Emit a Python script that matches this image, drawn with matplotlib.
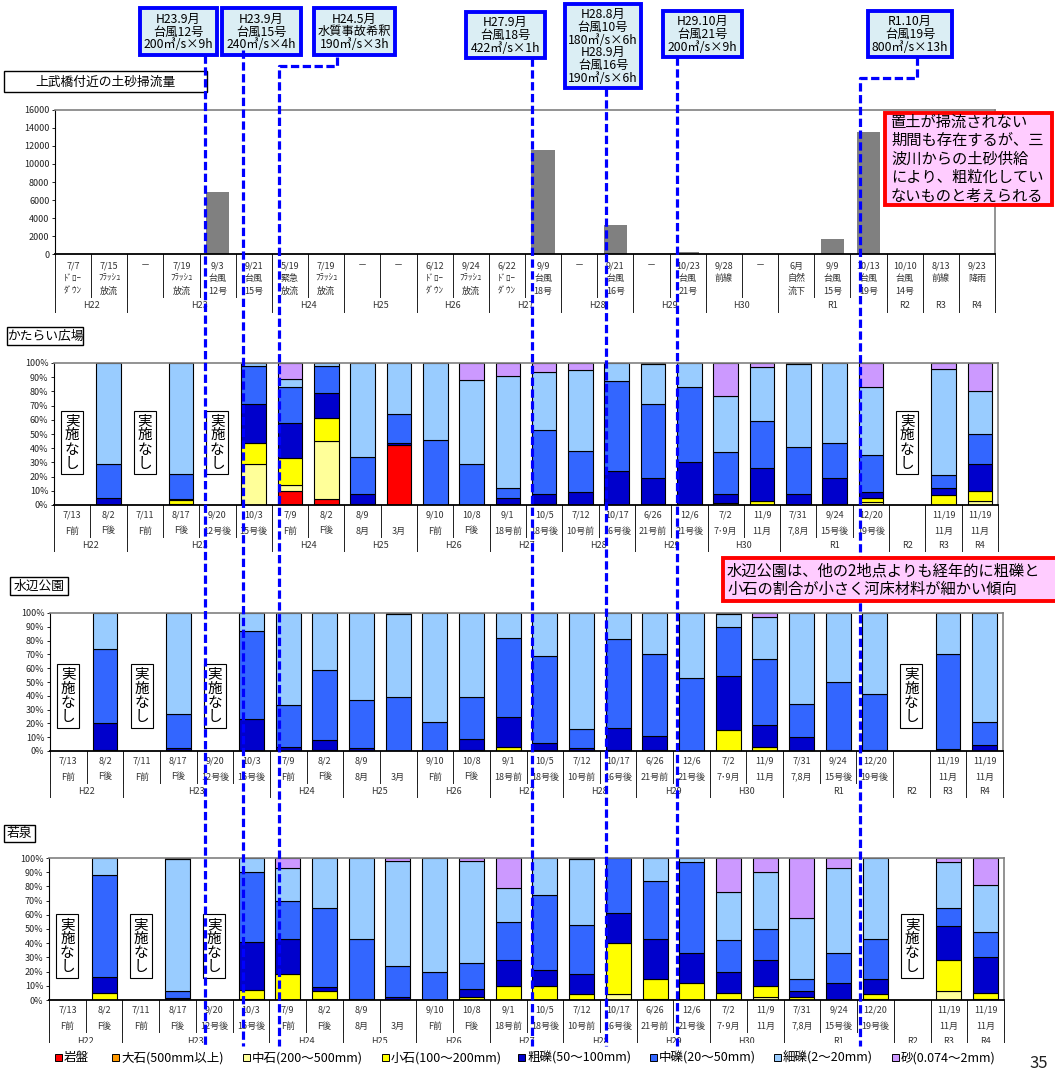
import numpy as np
import matplotlib
matplotlib.use("Agg")
import matplotlib.pyplot as plt
from matplotlib.patches import Rectangle

plt.rcParams["font.family"] = ["Noto Sans CJK JP", "DejaVu Sans"]

W, H = 1055, 1075

# grain-size classes, bottom of the stack first
CLASSES = ["岩盤", "大石(500mm以上)", "中石(200～500mm)", "小石(100～200mm)",
           "粗礫(50～100mm)", "中礫(20～50mm)", "細礫(2～20mm)", "砂(0.074～2mm)"]
CLASS_COLORS = ["#ff0000", "#ff9900", "#ffff99", "#ffff00",
                "#0000cc", "#3366ff", "#99ccff", "#cc99ff"]

YEARS = ["H22", "H23", "H24", "H25", "H26", "H27", "H28", "H29", "H30",
         "R1", "R2", "R3", "R4"]
YEAR_SPANS = [2, 4, 2, 2, 2, 2, 2, 2, 2, 3, 1, 1, 1]

# sediment flushed near 上武橋 (m3)
FLOW_LABELS = ["7/7\nﾄﾞﾛｰ\nﾀﾞｳﾝ", "7/15\nﾌﾗｯｼｭ\n放流", "－", "7/19\nﾌﾗｯｼｭ\n放流",
               "9/3\n台風\n12号", "9/21\n台風\n15号", "5/19\n緊急\n放流",
               "7/19\nﾌﾗｯｼｭ\n放流", "－", "－", "6/12\nﾄﾞﾛｰ\nﾀﾞｳﾝ",
               "9/24\nﾌﾗｯｼｭ\n放流", "6/22\nﾄﾞﾛｰ\nﾀﾞｳﾝ", "9/9\n台風\n18号", "－",
               "9/21\n台風\n16号", "－", "10/23\n台風\n21号", "9/28\n前線", "－",
               "6月\n自然\n流下", "9/9\n台風\n15号", "10/13\n台風\n19号",
               "10/10\n台風\n14号", "8/13\n前線", "9/23\n降雨"]
FLOW_VOLUME = [0, 0, 0, 0, 6900, 0, 0, 0, 0, 0, 0, 0, 0,
               11500, 0, 3250, 0, 250, 0, 0, 0, 1700, 13600, 0, 0, 0]

SAMPLE_DATES = ["7/13", "8/2", "7/11", "8/17", "9/20", "10/3", "7/9", "8/2",
                "8/9", "", "9/10", "10/8", "9/1", "10/5", "7/12", "10/17",
                "6/26", "12/6", "7/2", "11/9", "7/31", "9/24", "12/20", "",
                "11/19", "11/19"]
SAMPLE_NOTES = ["F前", "F後", "F前", "F後", "12号後", "15号後", "F前", "F後",
                "8月", "3月", "F前", "F後", "18号前", "18号後", "10号前", "16号後",
                "21号前", "21号後", "7･9月", "11月", "7,8月", "15号後", "19号後", "",
                "11月", "11月"]

# composition (%) per survey, columns follow CLASSES; None = 実施なし
KATARAI = [
    None, [0, 0, 0, 0, 5, 24, 71, 0], None, [0, 0, 1, 2.5, 0.5, 18, 78, 0], None,
    [0, 0, 29, 15, 27, 27, 2, 0], [10, 0, 4, 19, 25, 25, 6, 11],
    [4, 0, 41, 16, 18, 19, 2, 0], [0, 0, 0, 1, 7, 26, 66, 0],
    [42, 0, 0, 0, 2, 20, 36, 0], [0, 0, 0, 0, 0, 46, 54, 0],
    [0, 0, 0, 0, 0, 29, 59, 12], [0, 0, 0, 1, 4, 7, 79, 9],
    [0, 0, 0, 1, 7, 45, 41, 6], [0, 0, 0, 0, 9, 29, 57, 5],
    [0, 0, 0, 0, 24, 63, 13, 0], [0, 0, 0, 1, 18, 52, 28, 1],
    [0, 0, 0, 0, 30, 53, 17, 0], [0, 0, 0, 1.5, 6.5, 29, 40, 23],
    [0, 0, 0, 3, 23, 33, 38, 3], [0, 0, 0, 0, 8, 33, 58, 1],
    [0, 0, 0, 1, 18, 25, 56, 0], [0, 0, 2, 3, 4, 26, 48, 17], None,
    [0, 0, 0, 7, 5, 9, 75, 4], [0, 0, 3, 7, 19, 21, 30, 20],
]
MIZUBE = [
    None, [0, 0, 0, 1, 19, 54, 26, 0], None, [0, 0, 0, 1, 1, 25, 73, 0], None,
    [0, 0, 0, 0, 23, 64, 13, 0], [0, 0, 0, 0, 3, 30, 67, 0],
    [0, 0, 0, 1, 7, 51, 41, 0], [0, 0, 0, 0, 2, 35, 63, 0],
    [0, 0, 0, 0, 0, 39, 60, 1], [0, 0, 0, 0, 0, 21, 79, 0],
    [0, 0, 0, 1, 8, 30, 61, 0], [0, 0, 0, 3, 22, 57, 18, 0],
    [0, 0, 0, 0, 6, 63, 31, 0], [0, 0, 0, 0, 2, 14, 84, 0],
    [0, 0, 0, 1, 16, 64, 19, 0], [0, 0, 0, 1, 10, 59, 30, 0],
    [0, 0, 0, 0, 0, 53, 47, 0], [0, 0, 0, 15, 39, 36, 9, 1],
    [0, 0, 0, 3, 16, 48, 30, 3], [0, 0, 0, 0, 10, 24, 66, 0],
    [0, 0, 0, 0, 1, 49, 50, 0], [0, 0, 0, 0, 1, 40, 59, 0], None,
    [0, 0, 0, 0, 1.5, 68.5, 30, 0], [0, 0, 0, 0, 4, 17, 79, 0],
]
WAKAIZUMI = [
    None, [0, 0, 0, 5, 11, 72, 12, 0], None, [0, 0, 0, 0, 1.5, 4.5, 93, 1], None,
    [0, 0, 1, 6, 34, 49, 10, 0], [0, 0, 0, 18, 25, 27, 23, 7],
    [0, 0, 1, 5, 3, 56, 35, 0], [0, 0, 0, 0, 1, 42, 57, 0],
    [0, 0, 0, 0, 2, 22, 74, 2], [0, 0, 0, 0, 0, 20, 80, 0],
    [0, 0, 0, 2, 6, 18, 72, 2], [0, 0, 0, 10, 18, 27, 24, 21],
    [0, 0, 0, 10, 11, 53, 26, 0], [0, 0, 0, 4, 14, 35, 46, 1],
    [0, 0, 4, 36, 21, 39, 0, 0], [0, 0, 1, 14, 28, 41, 16, 0],
    [0, 0, 0, 12, 21, 64, 3, 0], [0, 0, 0, 5, 15, 22, 34, 24],
    [0, 0, 2, 8, 18, 22, 40, 10], [0, 0, 0, 2, 4, 9, 43, 42],
    [0, 0, 0, 0, 12, 21, 60, 7], [0, 0, 1, 3, 11, 28, 57, 0], None,
    [0, 0, 6, 22, 24, 13, 32, 3], [0, 0, 1, 4, 25, 18, 33, 19],
]

N = len(FLOW_VOLUME)
LABEL_FS = 6.5


def px_axes(fig, left, top, right, bottom):
    return fig.add_axes([left / W, 1 - bottom / H, (right - left) / W, (bottom - top) / H])


def frame(ax):
    for s in ("top", "right"):
        ax.spines[s].set_color("#808080")
        ax.spines[s].set_linewidth(1.2)
    ax.spines["left"].set_linewidth(0.8)
    ax.spines["bottom"].set_linewidth(1.3)
    ax.set_xlim(0, N)
    ax.set_xticks([])
    ax.tick_params(axis="y", length=2, width=0.6, labelsize=LABEL_FS, pad=2,
                   labelcolor="#222")


def category_axis(ax, h_px, rows, row_dy, minor_dy, year_dy, major_dy):
    """Two-level category labels below the axis; offsets are in pixels."""
    tr = ax.get_xaxis_transform()
    f = lambda d: -d / h_px
    for i in range(N + 1):
        ax.plot([i, i], [0, f(minor_dy)], transform=tr, color="#202020",
                lw=0.7, clip_on=False)
    edges = np.concatenate([[0], np.cumsum(YEAR_SPANS)])
    for e in edges:
        ax.plot([e, e], [0, f(major_dy)], transform=tr, color="#202020",
                lw=0.7, clip_on=False)
    for texts, dy in zip(rows, row_dy):
        for i, t in enumerate(texts):
            if t:
                ax.text(i + 0.5, f(dy), t, transform=tr, ha="center", va="center",
                        fontsize=LABEL_FS, color="#333", clip_on=False)
    for name, a, b in zip(YEARS, edges[:-1], edges[1:]):
        ax.text((a + b) / 2, f(year_dy), name, transform=tr, ha="center",
                va="center", fontsize=LABEL_FS, color="#333", clip_on=False)


def title_box(ov, x0, y0, x1, y1, label):
    ov.add_patch(Rectangle((x0, y0), x1 - x0, y1 - y0, fc="white", ec="black", lw=1.0))
    ov.text((x0 + x1) / 2, (y0 + y1) / 2 + 0.5, label, ha="center", va="center",
            fontsize=9.2)


def site_chart(ax, rows, box_y):
    x = np.arange(N) + 0.5
    data = np.array([r if r is not None else [0] * 8 for r in rows], float)
    bottom = np.zeros(N)
    for k, color in enumerate(CLASS_COLORS):
        v = data[:, k]
        m = v > 0
        ax.bar(x[m], v[m], bottom=bottom[m], width=0.68, color=color,
               edgecolor="black", linewidth=0.8)
        bottom += v
    for i, r in enumerate(rows):
        if r is None:
            ax.text(i + 0.5, box_y, "実\n施\nな\nし", ha="center", va="center",
                    fontsize=10.5, linespacing=1.02,
                    bbox=dict(boxstyle="square,pad=0.25", fc="white", ec="black", lw=0.8))
    ax.set_ylim(0, 100)
    ax.set_yticks(range(0, 101, 10))
    ax.set_yticklabels([f"{v}%" for v in range(0, 101, 10)])
    frame(ax)


fig = plt.figure(figsize=(W / 100, H / 100), dpi=100)

# --- sediment volume panel ---
ax0 = px_axes(fig, 55, 110, 995, 254)
x = np.arange(N) + 0.5
vol = np.array(FLOW_VOLUME, float)
m = vol > 0
ax0.bar(x[m], vol[m], width=0.65, color="#808080")
ax0.set_ylim(0, 16000)
ax0.set_yticks(range(0, 16001, 2000))
frame(ax0)
flow_rows = [[(t.split("\n") + ["", "", ""])[j] for t in FLOW_LABELS] for j in range(3)]
category_axis(ax0, 144, flow_rows, [12, 24, 37], 43, 52, 58)

# --- grain-size panels ---
panels = [
    (KATARAI, (54, 363, 998, 505), 44),
    (MIZUBE, (50, 613, 1003, 751), 40),
    (WAKAIZUMI, (49, 858, 1004, 1000), 38),
]
for rows, (l, t, r, b), box_y in panels:
    ax = px_axes(fig, l, t, r, b)
    site_chart(ax, rows, box_y)
    category_axis(ax, b - t, [SAMPLE_DATES, SAMPLE_NOTES], [10, 26], 32, 41, 46)

# --- overlay: titles, callouts, event lines, legend ---
ov = fig.add_axes([0, 0, 1, 1], zorder=10)
ov.set_xlim(0, W)
ov.set_ylim(H, 0)
ov.axis("off")
ov.patch.set_alpha(0)

title_box(ov, 4, 71, 207, 92, "上武橋付近の土砂掃流量")
title_box(ov, 7, 327, 83, 345, "かたらい広場")
title_box(ov, 10, 577, 68, 595, "水辺公園")
title_box(ov, 4, 825, 35, 842, "若泉")

# lower edge of the last panel is hidden under the legend strip
ov.add_patch(Rectangle((0, 1043), W, 40, fc="white", ec="none", zorder=1))

events = [
    ("H23.9月\n台風12号\n200㎥/s×9h", (140, 8, 217, 55)),
    ("H23.9月\n台風15号\n240㎥/s×4h", (222, 8, 301, 55)),
    ("H24.5月\n水質事故希釈\n190㎥/s×3h", (314, 8, 395, 55)),
    ("H27.9月\n台風18号\n422㎥/s×1h", (466, 12, 545, 58)),
    ("H28.8月\n台風10号\n180㎥/s×6h\nH28.9月\n台風16号\n190㎥/s×6h", (565, 4, 641, 88)),
    ("H29.10月\n台風21号\n200㎥/s×9h", (663, 11, 742, 57)),
    ("R1.10月\n台風19号\n800㎥/s×13h", (868, 11, 952, 57)),
]
for label, (x0, y0, x1, y1) in events:
    ov.add_patch(Rectangle((x0, y0), x1 - x0, y1 - y0, fc="#dbeef4", ec="#0000ff",
                           lw=2.8, zorder=2))
    ov.text((x0 + x1) / 2, (y0 + y1) / 2 + 0.5, label, ha="center", va="center",
            fontsize=8.8, linespacing=0.98, zorder=3)

event_lines = [
    [(205, 55), (205, 1046)],
    [(243, 50), (243, 1046)],
    [(337, 57), (337, 66), (279, 66), (279, 1046)],
    [(532, 58), (532, 1046)],
    [(606, 88), (606, 1046)],
    [(677, 57), (677, 1046)],
    [(917, 57), (917, 78), (860, 78), (860, 1046)],
]
for path in event_lines:
    xs, ys = zip(*path)
    ov.plot(xs, ys, color="#0000ff", lw=2.3, linestyle=(0, (2.6, 1.1)),
            solid_capstyle="butt", dash_capstyle="butt", zorder=4)

# notes
ov.add_patch(Rectangle((885, 113), 167, 92, fc="#ffccff", ec="#ff0000", lw=2.8, zorder=5))
ov.text(891, 159, "置土が掃流されない\n期間も存在するが、三\n波川からの土砂供給\n"
        "により、粗粒化してい\nないものと考えられる", ha="left", va="center",
        fontsize=11, linespacing=1.12, zorder=6)
ov.add_patch(Rectangle((723, 558), 345, 43, fc="#ffccff", ec="#ff0000", lw=2.8,
                       zorder=5, clip_on=False))
ov.text(727, 580, "水辺公園は、他の2地点よりも経年的に粗礫と\n小石の割合が小さく河床材料が細かい傾向",
        ha="left", va="center", fontsize=11, linespacing=1.08, zorder=6)

# legend
legend_x = [55, 112, 243, 382, 518, 650, 774, 892]
for lx, name, color in zip(legend_x, CLASSES, CLASS_COLORS):
    ov.add_patch(Rectangle((lx, 1054), 7, 7, fc=color, ec="black", lw=0.7, zorder=2))
    ov.text(lx + 9, 1058, name, ha="left", va="center", fontsize=9, zorder=2)

ov.text(1048, 1064, "35", ha="right", va="center", fontsize=12, color="#222")

fig.savefig("out.png", dpi=100, facecolor="white")
